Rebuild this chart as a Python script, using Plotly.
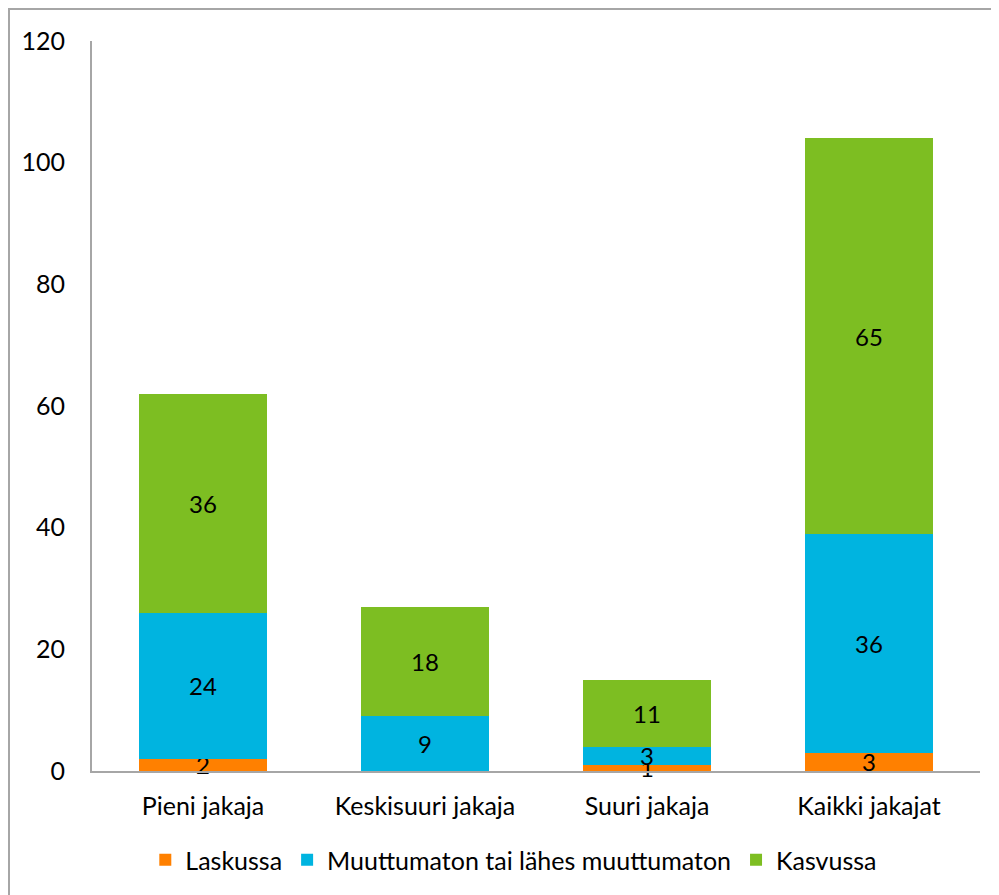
import plotly.graph_objects as go

categories = ["Pieni jakaja", "Keskisuuri jakaja", "Suuri jakaja", "Kaikki jakajat"]
laskussa = [2, None, 1, 3]
muuttumaton = [24, 9, 3, 36]
kasvussa = [36, 18, 11, 65]
series_names = ["Laskussa", "Muuttumaton tai lähes muuttumaton", "Kasvussa"]
colors = ["#FF8000", "#00B4E0", "#7DBE22"]
y_ticks = [0, 20, 40, 60, 80, 100, 120]

FONT = "Lato, Carlito, Calibri, sans-serif"
FS = 25

fig = go.Figure()
for name, vals, col in zip(series_names, [laskussa, muuttumaton, kasvussa], colors):
    fig.add_trace(go.Bar(
        x=categories, y=vals, name=name,
        marker=dict(color=col, line=dict(width=0)),
        text=[("" if v is None else str(v)) for v in vals],
        textposition="inside", insidetextanchor="middle",
        constraintext="none", textangle=0, cliponaxis=False,
        textfont=dict(color="black", size=FS - 1, family=FONT),
        hoverinfo="skip",
    ))

OFF = 8  # page body margin
W, H = 991, 887
L, T = 92 - OFF, 41 - OFF
pw, ph = 888, 730
R, B = W - L - pw, H - T - ph

def px_x(p):
    return (p - OFF - L) / pw

def px_y(p):
    return (T + ph - (p - OFF)) / ph

fig.update_layout(
    barmode="stack", bargap=0.423,
    width=W, height=H,
    margin=dict(l=L, r=R, t=T, b=B, autoexpand=False),
    paper_bgcolor="white", plot_bgcolor="white",
    font=dict(family=FONT, size=FS, color="black"),
    showlegend=True,
    legend=dict(orientation="h", x=0.475, xanchor="center", y=px_y(860), yanchor="middle",
                font=dict(size=FS), traceorder="normal", itemwidth=30),
    xaxis=dict(showline=True, linecolor="#A6A6A6", linewidth=2, ticks="",
               ticklabelstandoff=12, showgrid=False, zeroline=False),
    yaxis=dict(range=[0, 120], tickvals=y_ticks, showline=True, linecolor="#A6A6A6",
               linewidth=2, ticks="", showgrid=False, zeroline=False,
               ticklabelstandoff=20),
    shapes=[dict(type="rect", xref="paper", yref="paper",
                 x0=px_x(9), x1=px_x(1010), y0=px_y(905), y1=px_y(9),
                 line=dict(color="#A6A6A6", width=2), fillcolor="rgba(0,0,0,0)", layer="below")],
)

fig.write_html("out.html")
